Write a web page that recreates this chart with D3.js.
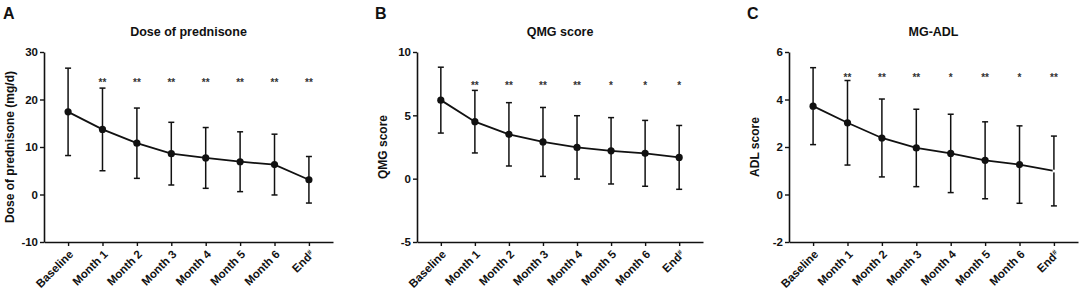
<!DOCTYPE html>
<html>
<head>
<meta charset="utf-8">
<script src="https://cdn.jsdelivr.net/npm/d3@7"></script>
<style>
  body { margin: 0; background: #fff; }
  svg { display: block; font-family: "Liberation Sans", Arial, sans-serif; }
</style>
</head>
<body>
<svg id="chart" width="1084" height="293"></svg>
<script>
// time points shared by all three panels
var categories = ['Baseline', 'Month 1', 'Month 2', 'Month 3', 'Month 4', 'Month 5', 'Month 6', 'End'];

// A - prednisone dose (mg/d), mean and SD
var doseMean = [17.4, 13.7, 10.8, 8.6, 7.7, 6.9, 6.3, 3.1];
var doseSD = [9.2, 8.7, 7.4, 6.6, 6.4, 6.3, 6.4, 4.9];
var doseSig = ['', '**', '**', '**', '**', '**', '**', '**'];
var doseTicks = [-10, 0, 10, 20, 30];

// B - QMG score
var qmgMean = [6.2, 4.5, 3.5, 2.9, 2.47, 2.2, 2.0, 1.68];
var qmgSD = [2.6, 2.47, 2.5, 2.72, 2.5, 2.62, 2.6, 2.52];
var qmgSig = ['', '**', '**', '**', '**', '*', '*', '*'];
var qmgTicks = [-5, 0, 5, 10];

// C - MG-ADL score
var adlMean = [3.72, 3.02, 2.38, 1.96, 1.73, 1.44, 1.26, 0.99];
var adlSD = [1.62, 1.78, 1.64, 1.63, 1.65, 1.62, 1.63, 1.47];
var adlSig = ['', '**', '**', '**', '*', '**', '*', '**'];
var adlTicks = [-2, 0, 2, 4, 6];

var panels = [
  {letter: 'A', title: 'Dose of prednisone', ylab: 'Dose of prednisone (mg/d)',
   mean: doseMean, sd: doseSD, sig: doseSig, ticks: doseTicks, sigAt: 24,
   left: 44, right: 333, letterX: 3, hideLast: false},
  {letter: 'B', title: 'QMG score', ylab: 'QMG score',
   mean: qmgMean, sd: qmgSD, sig: qmgSig, ticks: qmgTicks, sigAt: 7.5,
   left: 417, right: 703, letterX: 375, hideLast: false},
  {letter: 'C', title: 'MG-ADL', ylab: 'ADL score',
   mean: adlMean, sd: adlSD, sig: adlSig, ticks: adlTicks, sigAt: 5.0,
   left: 789, right: 1078, letterX: 747, hideLast: true}
];

var plotTop = 52, plotBottom = 242;
var svg = d3.select('#chart');

panels.forEach(function(p) {
  var g = svg.append('g');

  var x = d3.scalePoint().domain(categories).range([p.left, p.right]).padding(0.7);
  var y = d3.scaleLinear().domain(d3.extent(p.ticks)).range([plotBottom, plotTop]);

  var rows = categories.map(function(c, i) {
    return {cat: c, mean: p.mean[i], sd: p.sd[i], sig: p.sig[i], last: i === categories.length - 1};
  });

  // y axis (plain hyphen for negatives, as in the original)
  var yAxis = g.append('g')
    .attr('transform', 'translate(' + p.left + ',0)')
    .call(d3.axisLeft(y).tickValues(p.ticks).tickFormat(function(v) { return String(v); })
      .tickSize(4).tickPadding(2).tickSizeOuter(0));
  // x axis
  var xAxis = g.append('g')
    .attr('transform', 'translate(0,' + plotBottom + ')')
    .call(d3.axisBottom(x).tickSize(4).tickSizeOuter(0).tickFormat(''));

  [yAxis, xAxis].forEach(function(a) {
    a.select('.domain').attr('stroke', '#111').attr('stroke-width', 1.6);
    a.selectAll('.tick line').attr('stroke', '#111').attr('stroke-width', 1.4);
  });
  yAxis.selectAll('.tick text')
    .attr('fill', '#111').style('font-size', '11.5px').style('font-weight', 'bold')
    .attr('font-family', '"Liberation Sans", Arial, sans-serif');

  // rotated category labels
  var xl = g.selectAll('.xlab').data(rows).enter().append('text')
    .attr('transform', function(d) { return 'translate(' + (x(d.cat) + 6) + ',' + (plotBottom + 13) + ') rotate(-45)'; })
    .attr('text-anchor', 'end')
    .attr('fill', '#111')
    .style('font-size', '11.5px').style('font-weight', 'bold');
  xl.append('tspan').text(function(d) { return d.cat; });
  xl.filter(function(d) { return d.last; }).append('tspan')
    .attr('dy', '-0.5em').style('font-size', '7px').text('#');

  // error bars
  var eb = g.selectAll('.eb').data(rows).enter().append('g')
    .attr('stroke', '#111').attr('stroke-width', 1.5);
  eb.append('line')
    .attr('x1', function(d) { return x(d.cat); }).attr('x2', function(d) { return x(d.cat); })
    .attr('y1', function(d) { return y(d.mean + d.sd); }).attr('y2', function(d) { return y(d.mean - d.sd); });
  eb.append('line')
    .attr('x1', function(d) { return x(d.cat) - 3; }).attr('x2', function(d) { return x(d.cat) + 3; })
    .attr('y1', function(d) { return y(d.mean + d.sd); }).attr('y2', function(d) { return y(d.mean + d.sd); });
  eb.append('line')
    .attr('x1', function(d) { return x(d.cat) - 3; }).attr('x2', function(d) { return x(d.cat) + 3; })
    .attr('y1', function(d) { return y(d.mean - d.sd); }).attr('y2', function(d) { return y(d.mean - d.sd); });

  // mean line and markers
  var line = d3.line().x(function(d) { return x(d.cat); }).y(function(d) { return y(d.mean); });
  g.append('path').datum(rows)
    .attr('d', line).attr('fill', 'none').attr('stroke', '#111').attr('stroke-width', 1.8);
  g.selectAll('.pt').data(rows).enter().append('circle')
    .attr('cx', function(d) { return x(d.cat); })
    .attr('cy', function(d) { return y(d.mean); })
    .attr('r', function(d) { return (p.hideLast && d.last) ? 1.5 : 3.6; })
    .attr('fill', function(d) { return (p.hideLast && d.last) ? '#fff' : '#111'; });

  // significance marks
  g.selectAll('.sig').data(rows).enter().append('text')
    .attr('x', function(d) { return x(d.cat); })
    .attr('y', y(p.sigAt) + 5)
    .attr('text-anchor', 'middle')
    .attr('fill', '#333')
    .style('font-size', '10px').style('font-weight', 'bold')
    .text(function(d) { return d.sig; });

  // title, y label, panel letter
  g.append('text')
    .attr('x', (p.left + p.right) / 2).attr('y', 36)
    .attr('text-anchor', 'middle').attr('fill', '#111')
    .style('font-size', '12.5px').style('font-weight', 'bold')
    .text(p.title);
  g.append('text')
    .attr('transform', 'translate(' + (p.left - 30) + ',' + ((plotTop + plotBottom) / 2) + ') rotate(-90)')
    .attr('text-anchor', 'middle').attr('fill', '#111')
    .style('font-size', '12px').style('font-weight', 'bold')
    .text(p.ylab);
  g.append('text')
    .attr('x', p.letterX).attr('y', 19)
    .attr('fill', '#111')
    .style('font-size', '16px').style('font-weight', 'bold')
    .text(p.letter);
});
</script>
</body>
</html>
